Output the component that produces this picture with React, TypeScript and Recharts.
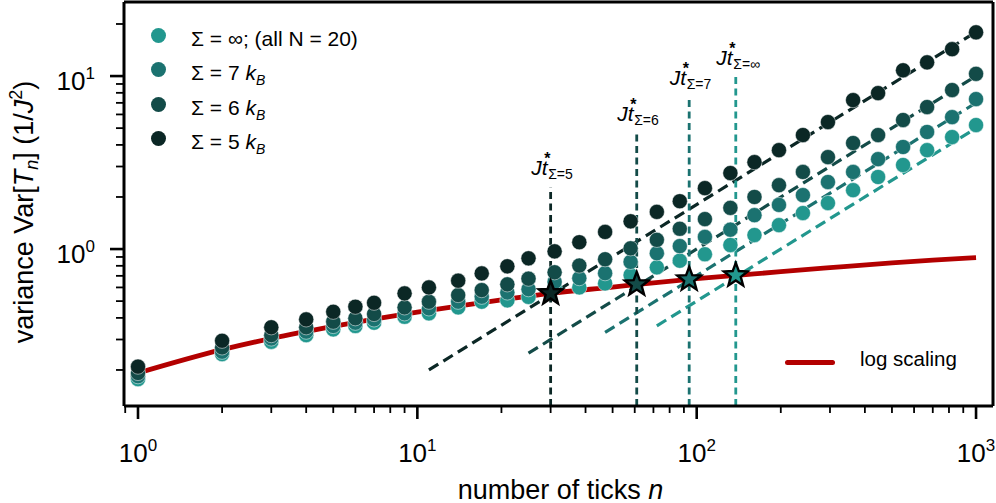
import React from "react";
import {
  ComposedChart,
  Scatter,
  Line,
  XAxis,
  YAxis,
  ReferenceLine,
  Legend,
  Cell,
} from "recharts";

const W = 996;
const H = 503;
const FONT = "'Liberation Sans', Arial, Helvetica, sans-serif";

const C5 = "#0b2725";
const C6 = "#134b48";
const C7 = "#1b7270";
const CINF = "#22978e";
const RED = "#b30000";

// axis ranges and ticks
const X_DOMAIN = [0.891, 1150];
const Y_DOMAIN = [0.1238, 26.8];
const X_TICKS = [0.9, 1, 2, 3, 4, 5, 6, 7, 8, 9, 10, 20, 30, 40, 50, 60, 70, 80, 90, 100, 200, 300, 400, 500, 600, 700, 800, 900, 1000];
const X_MAJOR = [1, 10, 100, 1000];
const Y_TICKS = [0.2, 0.3, 0.4, 0.5, 0.6, 0.7, 0.8, 0.9, 1, 2, 3, 4, 5, 6, 7, 8, 9, 10, 20];
const Y_MAJOR = [1, 10];

// number of ticks n
const N = [1, 2, 3, 4, 5, 6, 7, 9, 11, 14, 17, 21, 25, 31, 38, 47, 58, 72, 87, 107, 132, 161, 197, 240, 295, 363, 446, 548, 668, 821, 1000];

// variance per entropy budget
const VAR_5 = [0.209, 0.295, 0.353, 0.392, 0.434, 0.464, 0.489, 0.554, 0.6, 0.656, 0.723, 0.795, 0.884, 0.97, 1.095, 1.256, 1.447, 1.64, 1.89, 2.25, 2.75, 3.18, 3.73, 4.56, 5.42, 7.26, 7.97, 10.8, 12.0, 14.3, 17.9];
const VAR_6 = [0.192, 0.27, 0.318, 0.353, 0.38, 0.398, 0.421, 0.46, 0.496, 0.542, 0.579, 0.625, 0.674, 0.734, 0.803, 0.873, 1.01, 1.13, 1.31, 1.49, 1.73, 2.0, 2.34, 2.79, 3.4, 4.1, 4.56, 5.57, 6.62, 8.3, 10.3];
const VAR_7 = [0.184, 0.255, 0.304, 0.333, 0.359, 0.375, 0.392, 0.425, 0.454, 0.496, 0.53, 0.561, 0.586, 0.645, 0.679, 0.725, 0.843, 0.946, 1.04, 1.175, 1.294, 1.57, 1.8, 2.05, 2.44, 2.79, 3.31, 3.89, 4.75, 5.79, 7.36];
const VAR_INF = [0.177, 0.247, 0.291, 0.318, 0.343, 0.359, 0.375, 0.406, 0.425, 0.46, 0.496, 0.505, 0.529, 0.6, 0.6, 0.633, 0.707, 0.784, 0.856, 0.933, 1.055, 1.205, 1.375, 1.615, 1.845, 2.19, 2.61, 3.06, 3.73, 4.44, 5.21];

// log scaling curve
const LOG_N = [1, 2, 3, 5, 7, 10, 15, 20, 30, 50, 70, 100, 150, 200, 300, 500, 700, 1000];
const LOG_VAR = [0.192, 0.262, 0.304, 0.357, 0.393, 0.432, 0.476, 0.508, 0.555, 0.603, 0.638, 0.674, 0.712, 0.74, 0.78, 0.832, 0.864, 0.893];

// crossover times Jt*
const STAR_N = [30, 61, 94, 138];
const STAR_VAR = [0.555, 0.625, 0.668, 0.705];
const STAR_TOP = [2.28, 4.68, 7.57, 9.87];
const STAR_SUB = ["Σ=5", "Σ=6", "Σ=7", "Σ=∞"];
const STAR_COLORS = [C5, C6, C7, CINF];

// linear asymptotes (start point, end at n = 1000)
const FIT_N0 = [11, 25, 47, 72];
const FIT_V0 = [0.2, 0.25, 0.33, 0.36];
const FIT_N1 = 1000;
const FIT_V1 = [18.0, 10.0, 7.0, 5.0];

const toPoints = (xs: number[], ys: number[]) => xs.map((n, i) => ({ n, v: ys[i] }));

const SERIES = [
  { key: "inf", color: CINF, data: toPoints(N, VAR_INF) },
  { key: "7", color: C7, data: toPoints(N, VAR_7) },
  { key: "6", color: C6, data: toPoints(N, VAR_6) },
  { key: "5", color: C5, data: toPoints(N, VAR_5) },
];

const FITS = [C5, C6, C7, CINF].map((color, i) => ({
  color,
  data: [
    { n: FIT_N0[i], v: FIT_V0[i] },
    { n: FIT_N1, v: FIT_V1[i] },
  ],
}));

const dotShape = (color: string) => (p: any) =>
  <circle cx={p.cx} cy={p.cy} r={7.6} fill={color} stroke="#ffffff" strokeWidth={0.5} />;

function StarShape(p: any) {
  const { cx, cy, fill } = p;
  const R = 12.5;
  const r = R * 0.42;
  const pts: string[] = [];
  for (let k = 0; k < 10; k++) {
    const a = -Math.PI / 2 + (k * Math.PI) / 5;
    const rad = k % 2 === 0 ? R : r;
    pts.push(`${cx + rad * Math.cos(a)},${cy + rad * Math.sin(a)}`);
  }
  return <polygon points={pts.join(" ")} fill={fill} stroke="#000" strokeWidth={2.4} />;
}

function XTick(props: any) {
  const { x, y, payload } = props;
  const v = payload.value;
  const major = X_MAJOR.includes(v);
  return (
    <g>
      <line x1={x} x2={x} y1={y} y2={y + (major ? 13 : 7)} stroke="#000" strokeWidth={major ? 2.6 : 1.8} />
      {major && (
        <text x={x} y={y + 56} textAnchor="middle" fontFamily={FONT} fontSize={26} fill="#000">
          10<tspan dy={-11} fontSize={17}>{Math.round(Math.log10(v))}</tspan>
        </text>
      )}
    </g>
  );
}

function YTick(props: any) {
  const { x, y, payload } = props;
  const v = payload.value;
  const major = Y_MAJOR.includes(v);
  return (
    <g>
      <line x1={x - (major ? 14 : 8)} x2={x} y1={y} y2={y} stroke="#000" strokeWidth={major ? 2.6 : 1.8} />
      {major && (
        <text x={x - 29} y={y + 14} textAnchor="end" fontFamily={FONT} fontSize={26} fill="#000">
          10<tspan dy={-11} fontSize={17}>{Math.round(Math.log10(v))}</tspan>
        </text>
      )}
    </g>
  );
}

function YTitle(props: any) {
  const vb = props.viewBox;
  const x = vb.x + 33;
  const y = vb.y + vb.height / 2 + 8;
  return (
    <text transform={`translate(${x},${y}) rotate(-90)`} textAnchor="middle" fontFamily={FONT} fontSize={27} fill="#000">
      variance Var[<tspan fontStyle="italic">T</tspan>
      <tspan fontStyle="italic" fontSize={18} dy={5}>n</tspan>
      <tspan dy={-5}>] (1/</tspan>
      <tspan fontStyle="italic">J</tspan>
      <tspan fontSize={18} dy={-11}>2</tspan>
      <tspan dy={11}>)</tspan>
    </text>
  );
}

function XTitle(props: any) {
  const vb = props.viewBox;
  return (
    <text x={vb.x + vb.width / 2 + 2} y={vb.y + 93} textAnchor="middle" fontFamily={FONT} fontSize={27} fill="#000">
      number of ticks <tspan fontStyle="italic">n</tspan>
    </text>
  );
}

function JtLabel(props: any) {
  const { viewBox, sub } = props;
  const x0 = viewBox.x - 19.5;
  const base = viewBox.y - 12;
  return (
    <g fontFamily={FONT} fill="#000">
      <text x={x0} y={base} fontSize={21} fontStyle="italic">Jt</text>
      <text x={x0 + 13} y={base - 11} fontSize={16} fontWeight="bold">*</text>
      <text x={x0 + 17} y={base + 4} fontSize={14}>{sub}</text>
    </g>
  );
}

const LEGEND_ROWS = [
  { color: CINF, label: <>Σ = ∞; (all N = 20)</> },
  { color: C7, label: <>Σ = 7 <i>k</i><sub style={{ fontSize: 14, fontStyle: "italic" }}>B</sub></> },
  { color: C6, label: <>Σ = 6 <i>k</i><sub style={{ fontSize: 14, fontStyle: "italic" }}>B</sub></> },
  { color: C5, label: <>Σ = 5 <i>k</i><sub style={{ fontSize: 14, fontStyle: "italic" }}>B</sub></> },
];

function LegendContent() {
  return (
    <div style={{ position: "relative", width: W, height: H, fontFamily: FONT, color: "#000", pointerEvents: "none" }}>
      {LEGEND_ROWS.map((row, i) => {
        const cy = 35 + i * 34.5;
        return (
          <React.Fragment key={i}>
            <div style={{ position: "absolute", left: 150.5, top: cy - 7.5, width: 15, height: 15, borderRadius: "50%", background: row.color }} />
            <div style={{ position: "absolute", left: 191, top: cy - 7.5, fontSize: 21, lineHeight: "21px", whiteSpace: "nowrap" }}>{row.label}</div>
          </React.Fragment>
        );
      })}
      <div style={{ position: "absolute", left: 785, top: 359.5, width: 50, height: 5, borderRadius: 2.5, background: RED }} />
      <div style={{ position: "absolute", left: 860, top: 349, fontSize: 20.5, lineHeight: "20px", whiteSpace: "nowrap" }}>log scaling</div>
    </div>
  );
}

export default function App() {
  return (
    <div style={{ position: "absolute", left: 0, top: 0, width: W, height: H, background: "#fff" }}>
      <ComposedChart width={W} height={H} margin={{ top: 2, right: 3, bottom: 0, left: 0 }}>
        <XAxis
          dataKey="n"
          type="number"
          scale="log"
          domain={X_DOMAIN}
          allowDataOverflow
          ticks={X_TICKS}
          interval={0}
          tick={<XTick />}
          tickLine={false}
          tickSize={0}
          tickMargin={0}
          height={97}
          axisLine={{ stroke: "#000", strokeWidth: 3 }}
          label={<XTitle />}
        />
        <YAxis
          dataKey="v"
          type="number"
          scale="log"
          domain={Y_DOMAIN}
          allowDataOverflow
          ticks={Y_TICKS}
          interval={0}
          tick={<YTick />}
          tickLine={false}
          tickSize={0}
          tickMargin={0}
          width={124}
          axisLine={{ stroke: "#000", strokeWidth: 3 }}
          label={<YTitle />}
        />
        <ReferenceLine y={Y_DOMAIN[1]} stroke="#000" strokeWidth={3} ifOverflow="visible" />
        <ReferenceLine x={X_DOMAIN[1]} stroke="#000" strokeWidth={3} ifOverflow="visible" />

        {FITS.map((f, i) => (
          <Line
            key={`fit-${i}`}
            data={f.data}
            dataKey="v"
            type="linear"
            stroke={f.color}
            strokeWidth={3.2}
            strokeDasharray="11 6"
            dot={false}
            activeDot={false}
            isAnimationActive={false}
          />
        ))}

        <Line
          data={toPoints(LOG_N, LOG_VAR)}
          dataKey="v"
          type="monotone"
          stroke={RED}
          strokeWidth={4.8}
          dot={false}
          activeDot={false}
          isAnimationActive={false}
        />

        {SERIES.map((s) => (
          <Scatter
            key={s.key}
            data={s.data}
            dataKey="v"
            shape={dotShape(s.color)}
            isAnimationActive={false}
          />
        ))}

        {STAR_N.map((n, i) => (
          <ReferenceLine
            key={`vl-${i}`}
            segment={[
              { x: n, y: Y_DOMAIN[0] },
              { x: n, y: STAR_TOP[i] },
            ]}
            stroke={STAR_COLORS[i]}
            strokeWidth={2.8}
            strokeDasharray="7 4.5"
            ifOverflow="visible"
            label={<JtLabel sub={STAR_SUB[i]} />}
          />
        ))}

        <Scatter data={toPoints(STAR_N, STAR_VAR)} dataKey="v" shape={<StarShape />} isAnimationActive={false}>
          {STAR_COLORS.map((c, i) => (
            <Cell key={`star-${i}`} fill={c} />
          ))}
        </Scatter>

        <Legend
          layout="vertical"
          align="center"
          verticalAlign="middle"
          content={<LegendContent />}
          wrapperStyle={{ left: 0, top: 0, width: W, height: H }}
        />
      </ComposedChart>
    </div>
  );
}
